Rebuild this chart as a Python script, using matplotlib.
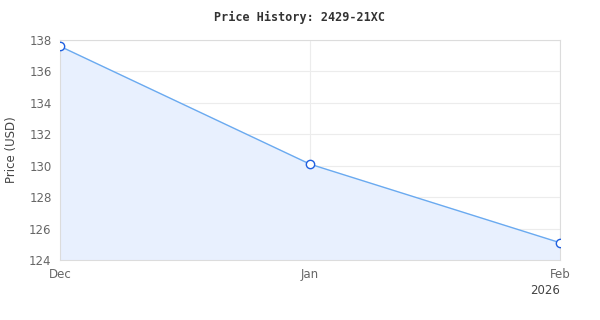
import numpy as np
import matplotlib
matplotlib.use("Agg")
import matplotlib.pyplot as plt
import matplotlib.dates as mdates
from datetime import datetime

dates = [datetime(2025, 12, 1), datetime(2026, 1, 1), datetime(2026, 2, 1)]
prices = [137.6, 130.1, 125.1]
tick_labels = ["Dec", "Jan", "Feb"]

fig = plt.figure(figsize=(6, 3.2), dpi=100)
ax = fig.add_axes([60 / 600, 60 / 320, 500 / 600, 220 / 320])

x = mdates.date2num(dates)
ax.fill_between(x, prices, 124, color="#e8f0fe", zorder=1)
ax.plot(x, prices, color="#6aaaf0", lw=1, zorder=3)
ax.plot(x, prices, "o", ms=6, mfc="white", mec="#1f5fe0", mew=1, zorder=4)

ax.set_xlim(x[0], x[-1])
ax.set_ylim(124, 138)
ax.set_yticks(np.arange(124, 139, 2))
ax.set_xticks(x)
ax.set_xticklabels(tick_labels)
ax.grid(True, color="#ececec", lw=0.8, zorder=0)
ax.set_axisbelow(True)

for s in ax.spines.values():
    s.set_color("#dcdcdc")
    s.set_linewidth(0.8)
ax.tick_params(length=0, colors="#666666", labelsize=8.5, pad=6)
ax.text(x[-1], -0.108, "2026", transform=ax.get_xaxis_transform(),
        ha="right", va="top", fontsize=8.5, color="#444444")

ax.set_ylabel("Price (USD)", fontsize=8.5, color="#444444", labelpad=8)
fig.text(0.5, 0.945, "Price History: 2429-21XC", ha="center", va="center",
         fontsize=8.5, fontweight="bold", family="DejaVu Sans Mono", color="#333333")

fig.savefig("out.png", dpi=100)
